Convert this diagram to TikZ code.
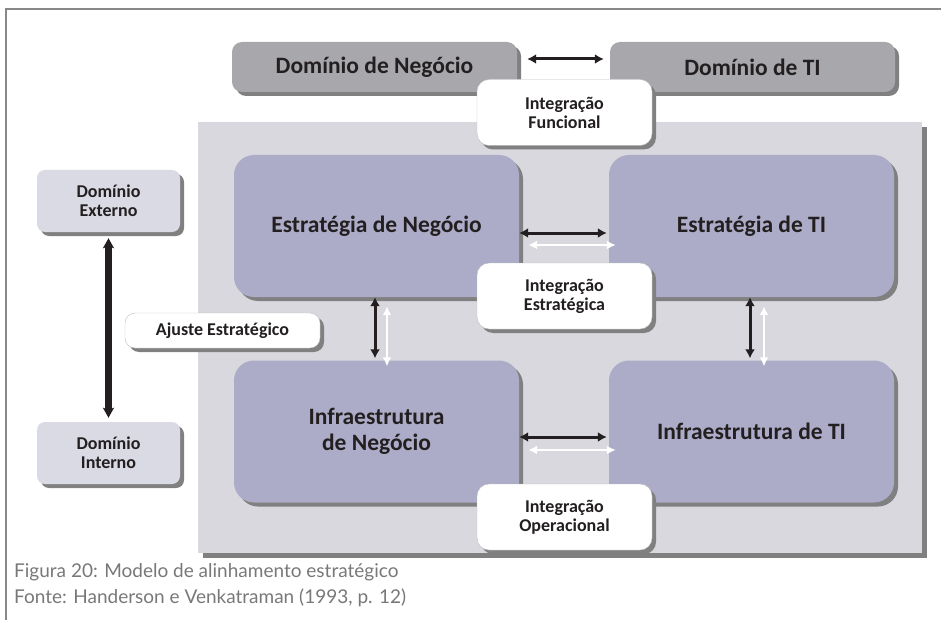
\documentclass[tikz,border=0pt]{standalone}
\usepackage{fontspec}
\setmainfont{Carlito}
\newfontfamily\capfont{Lato}
\usetikzlibrary{arrows.meta,shadows}

\definecolor{framegray}{RGB}{136,136,136}
\definecolor{panelgray}{RGB}{216,216,222}
\definecolor{lavender}{RGB}{172,172,200}
\definecolor{domgray}{RGB}{168,168,172}
\definecolor{sidegray}{RGB}{218,218,228}
\definecolor{shadegray}{RGB}{128,128,128}
\definecolor{txt}{RGB}{35,31,32}
\definecolor{captxt}{RGB}{120,120,120}

\tikzset{
  shadebox/.style={drop shadow={shadow xshift=4pt,shadow yshift=-4pt,fill=shadegray,opacity=1}},
  bigbox/.style={shadebox,fill=lavender,rounded corners=20pt,minimum width=285pt,minimum height=142pt,
    inner sep=0pt,align=center,text=txt,font=\bfseries\fontsize{23.5}{26}\selectfont},
  dombox/.style={shadebox,fill=domgray,rounded corners=10pt,minimum width=285pt,minimum height=50pt,
    inner sep=0pt,text=txt,font=\bfseries\fontsize{23.5}{26}\selectfont},
  intbox/.style={shadebox,fill=white,draw=black!25,rounded corners=12pt,minimum width=175pt,minimum height=66pt,
    inner sep=0pt,align=center,text=txt,font=\bfseries\fontsize{18}{19}\selectfont},
  sidebox/.style={shadebox,fill=sidegray,rounded corners=8pt,minimum width=143pt,minimum height=62pt,
    inner sep=0pt,align=center,text=txt,font=\bfseries\fontsize{18}{19}\selectfont},
  blackarrow/.style={txt,line width=3pt,{Latex[length=9pt,width=10pt]}-{Latex[length=9pt,width=10pt]}},
  whitearrow/.style={white,line width=2.5pt,{Latex[length=9pt,width=9pt]}-{Latex[length=9pt,width=9pt]}},
}

\begin{document}
\begin{tikzpicture}[x=1pt,y=-1pt]
\useasboundingbox (0,0) rectangle (941,620);
\draw[framegray,line width=2.5pt] (941,9) -- (6,9) -- (6,620);

% painel central
\node[drop shadow={shadow xshift=5pt,shadow yshift=-5pt,fill=shadegray,opacity=1},
  fill=panelgray,minimum width=724pt,minimum height=431pt,inner sep=0pt] (panel) at (560,337.5) {};

% dominios
\node[dombox] (dn) at (374.5,67) {Domínio de Negócio};
\node[dombox] (dt) at (752.5,67) {Domínio de TI};

% quadrantes
\node[bigbox] (sn) at (376.5,226) {Estratégia de Negócio};
\node[bigbox] (st) at (751.5,226) {Estratégia de TI};
\node[bigbox] (in) at (376.5,431.5) {Infraestrutura\\de Negócio};
\node[bigbox] (it) at (751.5,431.5) {Infraestrutura de TI};

\node[sidebox] (ext) at (108.5,201) {Domínio\\Externo};
\node[sidebox] (int) at (108.5,453) {Domínio\\Interno};

\draw[blackarrow] ([xshift=10pt,yshift=8pt]dn.east) -- ([xshift=-6pt,yshift=8pt]dt.west);
\draw[blackarrow] ([yshift=-7pt]sn.east) -- ([xshift=-2pt,yshift=-7pt]st.west);
\draw[whitearrow] ([xshift=9pt,yshift=-19pt]sn.east) -- ([xshift=7pt,yshift=-19pt]st.west);
\draw[blackarrow] ([yshift=-5.5pt]in.east) -- ([xshift=-2pt,yshift=-5.5pt]it.west);
\draw[whitearrow] ([xshift=9pt,yshift=-18.5pt]in.east) -- ([xshift=7pt,yshift=-18.5pt]it.west);
\draw[blackarrow] ([xshift=-1.5pt]sn.south) -- ([xshift=-1.5pt,yshift=2pt]in.north);
\draw[whitearrow] ([xshift=10.5pt,yshift=-9pt]sn.south) -- ([xshift=10.5pt,yshift=-6pt]in.north);
\draw[blackarrow] ([xshift=-1.5pt]st.south) -- ([xshift=-1.5pt,yshift=2pt]it.north);
\draw[whitearrow] ([xshift=12.5pt,yshift=-9pt]st.south) -- ([xshift=12.5pt,yshift=-6pt]it.north);
\draw[txt,line width=6.5pt,{Stealth[length=10pt,width=11pt,inset=2pt]}-{Stealth[length=10pt,width=11pt,inset=2pt]}]
  ([yshift=-6pt]ext.south) -- ([yshift=4pt]int.north);

% integracoes
\node[intbox] (func) at (564.5,112.5) {Integração\\Funcional};
\node[intbox] (estr) at (564.5,296) {Integração\\Estratégica};
\node[intbox] (oper) at (564.5,517) {Integração\\Operacional};
\node[intbox,rounded corners=10pt,minimum width=195pt,minimum height=35pt] (ajuste) at (222.5,330.5) {Ajuste Estratégico};

% legenda
\node[anchor=base west,text=captxt,font=\capfont\fontsize{19}{22}\selectfont,inner sep=0pt] (caption) at (14,577)
  {Figura 20: Modelo de alinhamento estratégico};
\node[anchor=base west,text=captxt,font=\capfont\fontsize{19}{22}\selectfont,inner sep=0pt] (source) at (14,603)
  {Fonte: Handerson e Venkatraman (1993, p. 12)};
\end{tikzpicture}
\end{document}
